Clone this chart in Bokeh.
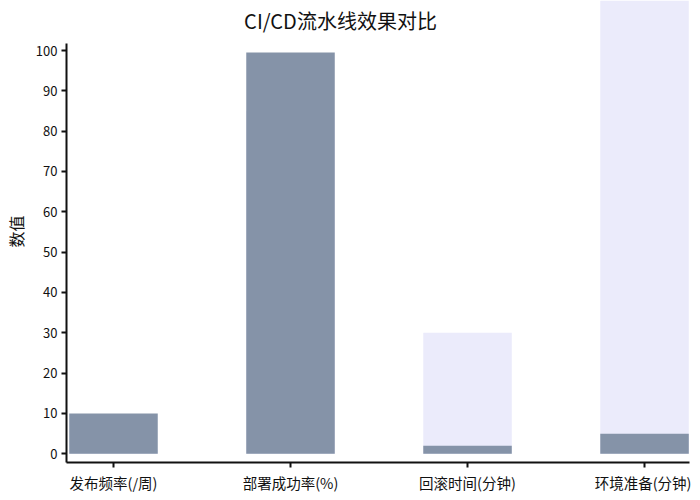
from bokeh.plotting import figure
from bokeh.models import FixedTicker, Range1d, Label
from bokeh.embed import file_html
from bokeh.resources import INLINE

categories = ["发布频率(/周)", "部署成功率(%)", "回滚时间(分钟)", "环境准备(分钟)"]
before_values = [1, 85, 30, 120]
after_values = [10, 99.5, 2, 5]
y_ticks = [0, 10, 20, 30, 40, 50, 60, 70, 80, 90, 100]

FONT = "Noto Sans CJK SC"
xs = list(range(len(categories)))

p = figure(width=684, height=492, frame_width=623, frame_height=462,
           output_backend="svg", toolbar_location=None,
           x_range=Range1d(-0.2655, 3.254), y_range=Range1d(-2.16, 112.4),
           min_border_left=59, min_border_right=2, min_border_top=0, min_border_bottom=30)
p.outline_line_color = None
p.grid.visible = False
p.background_fill_color = "white"

p.vbar(x=xs, top=before_values, bottom=0, width=0.5, fill_color="#ebebfb", line_color=None)
p.vbar(x=xs, top=after_values, bottom=0, width=0.5, fill_color="#8593a8", line_color=None)

p.xaxis.ticker = FixedTicker(ticks=xs)
p.xaxis.major_label_overrides = {i: c for i, c in enumerate(categories)}
p.yaxis.ticker = FixedTicker(ticks=y_ticks)
p.yaxis.bounds = (-2.16, 101.7)

for ax in (p.xaxis[0], p.yaxis[0]):
    ax.axis_line_color = "#111111"
    ax.axis_line_width = 2
    ax.major_tick_line_color = "#111111"
    ax.major_tick_line_width = 2
    ax.major_tick_out = 5
    ax.major_tick_in = 0
    ax.minor_tick_line_color = None
    ax.major_label_text_font = FONT
    ax.major_label_text_color = "#111111"
    ax.major_label_standoff = 4

p.yaxis.major_label_text_font_size = "13px"
p.xaxis.major_label_text_font_size = "14.5px"

p.yaxis.axis_label = "数值"
p.yaxis.axis_label_text_font = FONT
p.yaxis.axis_label_text_font_size = "16px"
p.yaxis.axis_label_text_font_style = "normal"
p.yaxis.axis_label_text_color = "#111111"
p.yaxis.axis_label_standoff = 5

title = Label(x=274, y=442, x_units="screen", y_units="screen",
              text="CI/CD流水线效果对比", text_font=FONT, text_font_size="20px",
              text_color="#111111", text_align="center", text_baseline="middle")
p.add_layout(title)

open("out.html", "w").write(file_html(p, INLINE))
